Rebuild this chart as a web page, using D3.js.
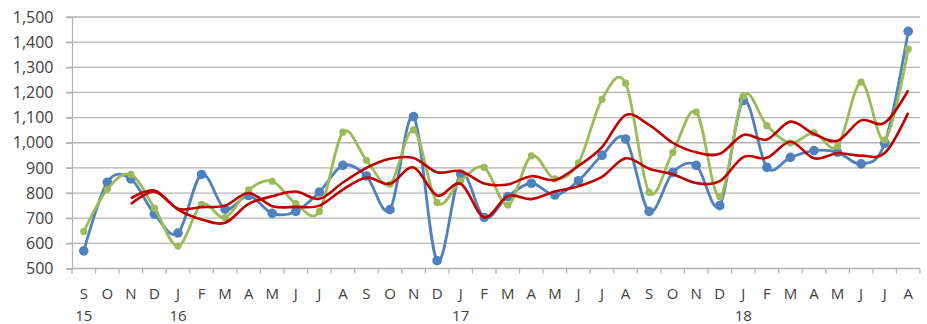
<!DOCTYPE html>
<html>
<head>
<meta charset="utf-8">
<script src="https://cdn.jsdelivr.net/npm/d3@7"></script>
<style>
  html, body { margin: 0; padding: 0; background: #fff; }
  svg { display: block; }
  text { font-family: "Open Sans", "DejaVu Sans", sans-serif; fill: #404040; }
</style>
</head>
<body>
<svg id="chart" width="927" height="324"></svg>
<script>
// Monthly categories, Sep 2015 – Aug 2018
const months = ["S","O","N","D","J","F","M","A","M","J","J","A",
                "S","O","N","D","J","F","M","A","M","J","J","A",
                "S","O","N","D","J","F","M","A","M","J","J","A"];
const yearLabels = [{ index: 0, label: "15" }, { index: 4, label: "16" },
                    { index: 16, label: "17" }, { index: 28, label: "18" }];

const seriesBlue = [570, 843, 856, 716, 641, 874, 736, 790, 719, 727, 804, 910,
                    868, 734, 1104, 531, 876, 703, 786, 839, 792, 849, 950, 1015,
                    727, 882, 910, 750, 1168, 902, 942, 969, 962, 916, 998, 1443];
const seriesGreen = [647, 815, 874, 740, 589, 755, 702, 813, 847, 758, 727, 1042,
                     930, 835, 1051, 762, 849, 902, 752, 948, 856, 920, 1173, 1237,
                     803, 961, 1122, 785, 1185, 1068, 999, 1039, 986, 1241, 1011, 1372];

// 3-month moving-average trend lines, starting at the third month (Nov 2015)
const trendBlue = [756, 805, 738, 744, 750, 800, 748, 745, 750, 814, 861, 837,
                   902, 790, 837, 703, 788, 776, 806, 827, 864, 938, 897, 875,
                   840, 847, 943, 940, 1004, 938, 958, 949, 959, 1119];
const trendGreen = [779, 810, 734, 695, 682, 757, 787, 806, 777, 842, 900, 936,
                    939, 883, 887, 838, 834, 867, 852, 908, 983, 1110, 1071, 1000,
                    962, 956, 1031, 1013, 1084, 1035, 1008, 1089, 1079, 1208];
const trendStart = 2;

const yTicks = [500, 600, 700, 800, 900, 1000, 1100, 1200, 1300, 1400, 1500];

const svg = d3.select("#chart");
const plotLeft = 72, plotRight = 920, plotTop = 17, plotBottom = 268.5;

const x = d3.scaleBand().domain(d3.range(months.length)).range([plotLeft, plotRight]).padding(0);
const cx = i => x(i) + x.bandwidth() / 2;
const y = d3.scaleLinear().domain([500, 1500]).range([plotBottom, plotTop]);

// horizontal gridlines
svg.append("g").selectAll("line").data(yTicks.slice(1)).join("line")
  .attr("x1", plotLeft - 6).attr("x2", plotRight)
  .attr("y1", d => y(d)).attr("y2", d => y(d))
  .attr("stroke", "#B4B4B4").attr("stroke-width", 1.3);

// y axis
const yAxis = svg.append("g").attr("transform", `translate(${plotLeft},0)`)
  .call(d3.axisLeft(y).tickValues(yTicks).tickFormat(d3.format(",")).tickSize(6).tickPadding(12.5));
yAxis.select(".domain").attr("stroke", "#B4B4B4").attr("stroke-width", 1.3);
yAxis.selectAll(".tick line").attr("stroke", "#B4B4B4").attr("stroke-width", 1.3);
yAxis.selectAll("text").attr("font-size", 16).attr("fill", "#404040")
  .style("font-family", "'Open Sans', sans-serif");

// x axis line and category boundary ticks
svg.append("line").attr("x1", plotLeft).attr("x2", plotRight)
  .attr("y1", plotBottom).attr("y2", plotBottom)
  .attr("stroke", "#B4B4B4").attr("stroke-width", 1.3);
svg.append("g").selectAll("line").data(d3.range(months.length + 1)).join("line")
  .attr("x1", i => i < months.length ? x(i) : plotRight)
  .attr("x2", i => i < months.length ? x(i) : plotRight)
  .attr("y1", plotBottom).attr("y2", plotBottom + 5)
  .attr("stroke", "#B4B4B4").attr("stroke-width", 1.3);

// month labels
svg.append("g").selectAll("text").data(months).join("text")
  .attr("x", (d, i) => cx(i)).attr("y", 299)
  .attr("text-anchor", "middle").attr("font-size", 15)
  .text(d => d);

// year labels
svg.append("g").selectAll("text").data(yearLabels).join("text")
  .attr("x", d => cx(d.index)).attr("y", 321)
  .attr("text-anchor", "middle").attr("font-size", 15)
  .text(d => d.label);

const smooth = d3.line().curve(d3.curveCatmullRom.alpha(0));

function drawSeries(values, color, r, width) {
  const pts = values.map((v, i) => [cx(i), y(v)]);
  svg.append("path").attr("d", smooth(pts))
    .attr("fill", "none").attr("stroke", color).attr("stroke-width", width)
    .attr("stroke-linejoin", "round");
  svg.append("g").selectAll("circle").data(pts).join("circle")
    .attr("cx", d => d[0]).attr("cy", d => d[1]).attr("r", r)
    .attr("fill", color);
}

function drawTrend(values, color) {
  const pts = values.map((v, i) => [cx(i + trendStart), y(v)]);
  svg.append("path").attr("d", smooth(pts))
    .attr("fill", "none").attr("stroke", color).attr("stroke-width", 2.6)
    .attr("stroke-linejoin", "round");
}

drawSeries(seriesBlue, "#4F81BD", 4.8, 2.8);
drawSeries(seriesGreen, "#9BBB59", 3.6, 2.8);
drawTrend(trendBlue, "#C00000");
drawTrend(trendGreen, "#C00000");
</script>
</body>
</html>
